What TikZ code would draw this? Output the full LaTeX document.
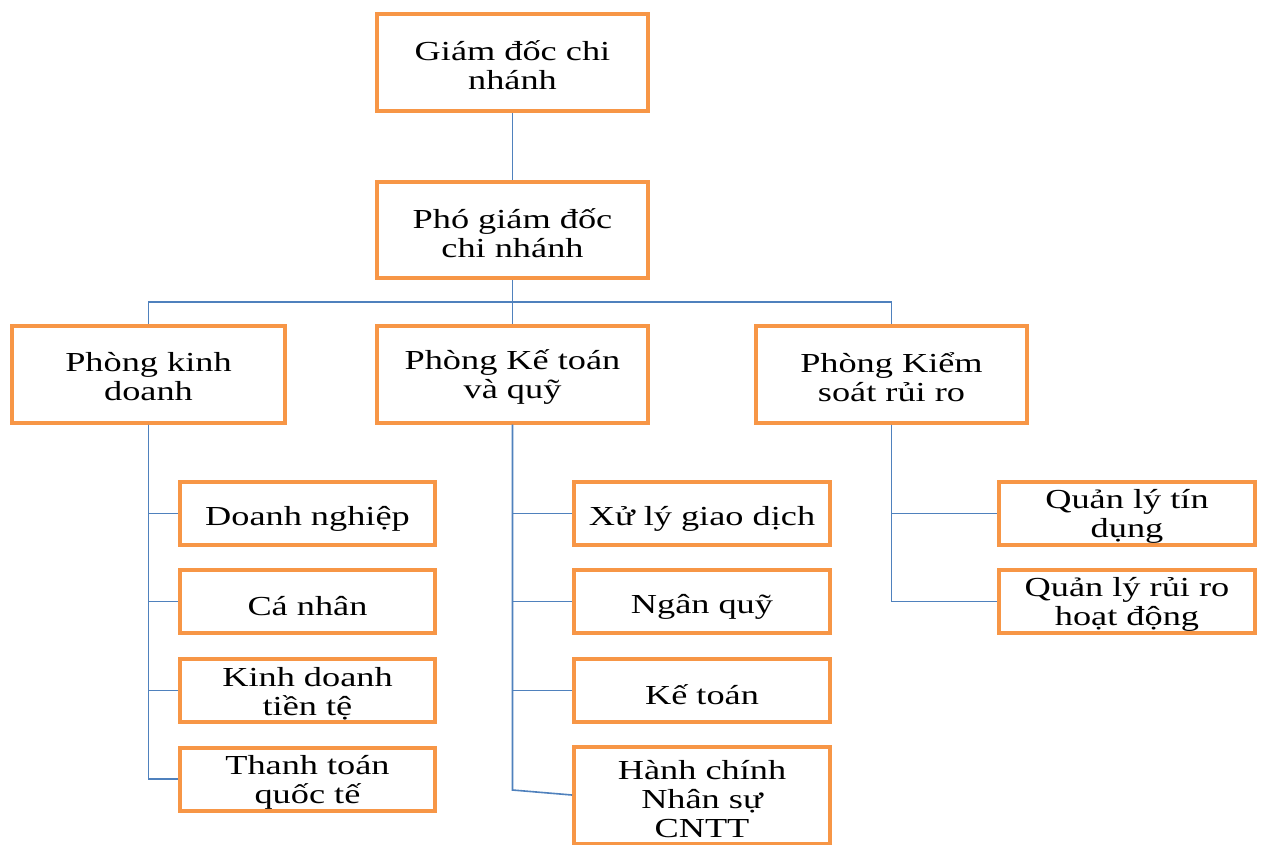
\documentclass[tikz,border=0pt]{standalone}
\usepackage{fontspec}
\setmainfont{Liberation Serif}[FakeStretch=1.32]
\definecolor{boxorange}{HTML}{F79646}
\definecolor{lineblue}{HTML}{4F81BD}
\begin{document}
\begin{tikzpicture}[x=1pt,y=-1pt,
  boxtext/.style={align=center, inner sep=0pt, font=\fontsize{27.5}{29}\selectfont},
  box/.style={draw=boxorange, line width=4pt, fill=white, boxtext,
    execute at begin node={\rule{0pt}{29pt}}},
  two/.style={label={[boxtext, yshift=-3pt]center:#1}},
  bigbox/.style={box, minimum width=271pt, minimum height=97pt},
  leftbox/.style={box, minimum width=255pt, minimum height=63pt},
  conn/.style={draw=lineblue, line width=1.6pt}]
\useasboundingbox (0,0) rectangle (1265,844);
\clip (0,0) rectangle (1265,844);
\fill[white] (0,0) rectangle (1265,844);
\coordinate (bus) at (512.5,302);
\coordinate (mbend) at (512.5,790);
\node[bigbox, two={Giám đốc chi\\nhánh}] (gd) at (512.5,62.5) {};
\node[bigbox, minimum height=96pt, two={Phó giám đốc\\chi nhánh}] (pgd) at (512.5,230) {};
\node[bigbox, minimum width=273pt, two={Phòng kinh\\doanh}] (pkd) at (148.5,374) {};
\node[bigbox, two={Phòng Kế toán\\và quỹ}] (pkt) at (512.5,374) {};
\node[bigbox, two={Phòng Kiểm\\soát rủi ro}] (pks) at (891.5,374) {};
% left column
\node[leftbox] (l1) at (307.5,513.5) {Doanh nghiệp};
\node[leftbox] (l2) at (307.5,601.5) {Cá nhân};
\node[leftbox, two={Kinh doanh\\tiền tệ}] (l3) at (307.5,690.5) {};
\node[leftbox, two={Thanh toán\\quốc tế}] (l4) at (307.5,779) {};
% middle column
\node[leftbox, minimum width=256pt] (m1) at (702,513.5) {Xử lý giao dịch};
\node[leftbox, minimum width=256pt] (m2) at (702,601.5) {Ngân quỹ};
\node[leftbox, minimum width=256pt] (m3) at (702,690.5) {Kế toán};
\node[leftbox, minimum width=256pt, minimum height=97pt,
  label={[boxtext, yshift=-4pt]center:Hành chính\\Nhân sự\\CNTT}] (m4) at (702,795) {};
% right column
\node[leftbox, minimum width=256pt, two={Quản lý tín\\dụng}] (r1) at (1127,513.5) {};
\node[leftbox, minimum width=256pt, two={Quản lý rủi ro\\hoạt động}] (r2) at (1127,601.5) {};
\draw[conn] (gd.south) -- (pgd.north);
\draw[conn] (pgd.south) -- (bus);
\draw[conn] (pkd.north) |- (bus) -| (pks.north);
\draw[conn] (bus) -- (pkt.north);
\draw[conn] (pkd.south) |- (l1.west);
\draw[conn] (pkd.south) |- (l2.west);
\draw[conn] (pkd.south) |- (l3.west);
\draw[conn] (pkd.south) |- (l4.west);
\draw[conn] (pkt.south) |- (m1.west);
\draw[conn] (pkt.south) |- (m2.west);
\draw[conn] (pkt.south) |- (m3.west);
\draw[conn] (pkt.south) -- (mbend) -- (m4.west);
\draw[conn] (pks.south) |- (r1.west);
\draw[conn] (pks.south) |- (r2.west);
\end{tikzpicture}
\end{document}
